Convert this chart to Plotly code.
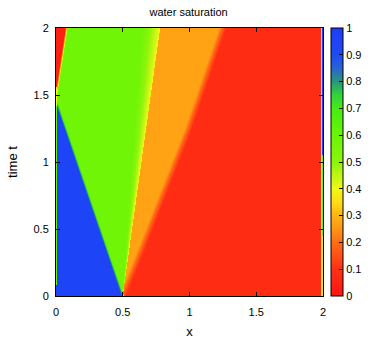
import numpy as np
import plotly.graph_objects as go

# saturation levels of the regions
s_blue = 0.95
s_green = 0.58
s_fan_end = 0.40
s_orange = 0.27
s_red = 0.08
s_wedge = 0.04

# fronts: (t, x) points
blue_t = [0.0, 1.46, 2.0]
blue_x = [0.50, 0.00, -0.37]
fan_t = [0.0, 2.0]
fan_x = [0.50, 0.64]
yellow_t = [0.0, 2.0]
yellow_x = [0.50, 0.78]
orange_t = [0.0, 0.32, 1.24, 2.0]
orange_x = [0.50, 0.63, 0.99, 1.25]
wedge_t = [0.0, 1.48, 2.0]
wedge_x = [-0.24, 0.0, 0.08]

# thin boundary strips at x = 0 and x = 2
left_t = [0.0, 0.08, 1.42, 1.56, 2.0]
left_s = [0.95, 0.60, 0.40, 0.04]
right_t = [0.0, 0.45, 1.05, 2.0]
right_s = [0.37, 0.60, 0.95]

x_ticks = [0, 0.5, 1, 1.5, 2]
y_ticks = [0, 0.5, 1, 1.5, 2]
cb_ticks = [0, 0.1, 0.2, 0.3, 0.4, 0.5, 0.6, 0.7, 0.8, 0.9, 1]

nx, nt = 267, 268
xc = (np.arange(nx) + 0.5) * 2.0 / nx
tc = (np.arange(nt) + 0.5) * 2.0 / nt
X, T = np.meshgrid(xc, tc)


def ramp(v, a, b):
    return np.clip((v - a) / (b - a), 0, 1)


def steps(edges, vals):
    i = np.clip(np.searchsorted(edges, tc, side="right") - 1, 0, len(vals) - 1)
    return np.array(vals)[i]


bF = np.interp(T, blue_t, blue_x)
fL = np.interp(T, fan_t, fan_x)
yl = np.interp(T, yellow_t, yellow_x)
oF = np.interp(T, orange_t, orange_x)
wF = np.interp(T, wedge_t, wedge_x)

green_side = s_green + (s_fan_end - s_green) * ramp(X, fL, yl + 1e-6)
orange_side = s_orange + (s_red - s_orange) * ramp(X, oF - 0.03, oF + 0.03)
z = np.where(X < yl, green_side, orange_side)
z = z + (s_blue - z) * (1 - ramp(X, bF - 0.012, bF + 0.012))
z = z + (s_wedge - z) * (1 - ramp(X, wF - 0.01, wF + 0.01))

z[:, 0] = steps(left_t, left_s)
z[:, -2] = 0.37
z[:, -1] = steps(right_t, right_s)
z = np.round(z, 3)

cscale = [
    [0.0, "rgb(255,20,20)"], [0.1, "rgb(255,50,20)"], [0.2, "rgb(255,110,20)"],
    [0.25, "rgb(255,150,20)"], [0.3, "rgb(255,180,20)"], [0.35, "rgb(255,220,20)"],
    [0.4, "rgb(240,250,20)"], [0.45, "rgb(190,245,20)"], [0.5, "rgb(140,245,10)"],
    [0.6, "rgb(105,245,5)"], [0.7, "rgb(70,235,20)"], [0.75, "rgb(50,210,60)"],
    [0.8, "rgb(40,150,120)"], [0.85, "rgb(40,100,210)"], [0.9, "rgb(30,75,245)"],
    [1.0, "rgb(30,60,250)"],
]

font = dict(family="Liberation Sans, Arial, sans-serif", size=11, color="black")

fig = go.Figure(go.Heatmap(
    x=xc, y=tc, z=z, zmin=0, zmax=1, colorscale=cscale,
    colorbar=dict(
        thickness=12, len=1, lenmode="fraction", y=0.5, yanchor="middle",
        x=1.03, xanchor="left", xpad=0, ypad=0,
        outlinecolor="black", outlinewidth=1,
        tickvals=cb_ticks, ticktext=[f"{v:g}" for v in cb_ticks],
        ticks="inside", ticklen=4, tickcolor="black",
        tickfont=font,
    ),
))

fig.update_layout(
    width=381, height=339,
    margin=dict(l=56, r=58, t=28, b=43),
    paper_bgcolor="white", plot_bgcolor="white",
    font=font,
    title=dict(text="water saturation", x=0.495, xanchor="center", y=0.965, yanchor="middle",
               font=dict(size=11, color="black")),
    xaxis=dict(range=[0, 2], tickvals=x_ticks, ticktext=[f"{v:g}" for v in x_ticks],
               ticks="inside", ticklen=4, tickcolor="black", showline=True,
               linecolor="black", linewidth=1, mirror="ticks", showgrid=False,
               zeroline=False, automargin=False, ticklabelstandoff=6,
               title=dict(text="x", standoff=10)),
    yaxis=dict(range=[0, 2], tickvals=y_ticks, ticktext=[f"{v:g}" for v in y_ticks],
               ticks="inside", ticklen=4, tickcolor="black", showline=True,
               linecolor="black", linewidth=1, mirror="ticks", showgrid=False,
               zeroline=False, automargin=False, ticklabelstandoff=4,
               title=dict(text="time t", standoff=12)),
)

fig.write_html("out.html", config={"displayModeBar": False},
               post_script="document.body.style.margin='0';")
